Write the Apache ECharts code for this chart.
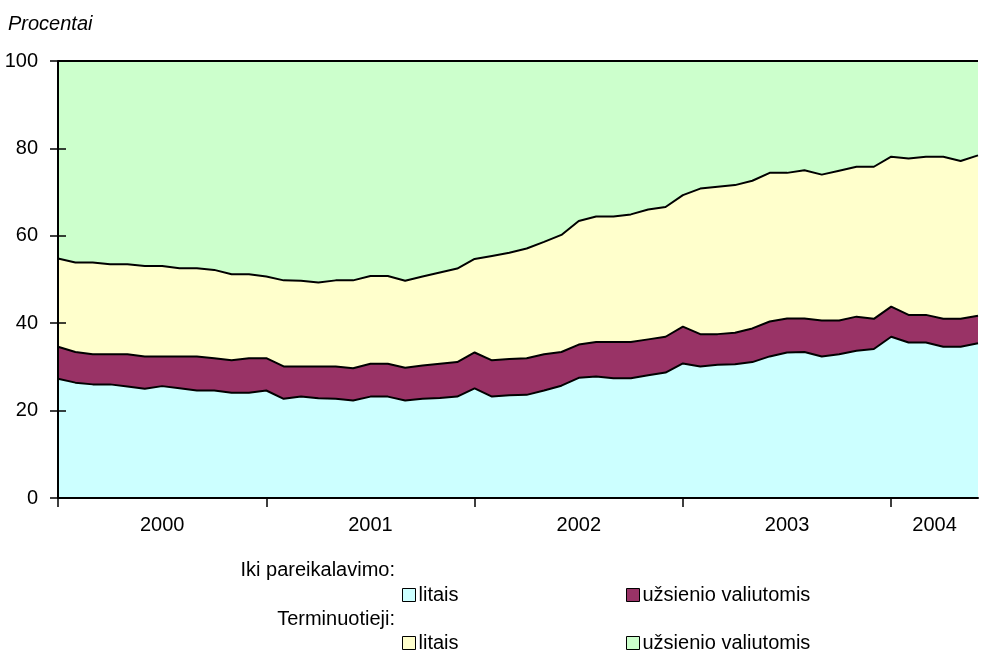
<!DOCTYPE html>
<html>
<head>
<meta charset="utf-8">
<script src="https://cdn.jsdelivr.net/npm/echarts@6/dist/echarts.min.js"></script>
<style>
  html, body { margin: 0; padding: 0; background: #fff; }
  #chart { width: 983px; height: 655px; }
</style>
</head>
<body>
<div id="chart"></div>
<script>
// monthly points, Jan 2000 .. Jun 2004
const months = [
  "2000-01","2000-02","2000-03","2000-04","2000-05","2000-06","2000-07","2000-08","2000-09","2000-10","2000-11","2000-12",
  "2001-01","2001-02","2001-03","2001-04","2001-05","2001-06","2001-07","2001-08","2001-09","2001-10","2001-11","2001-12",
  "2002-01","2002-02","2002-03","2002-04","2002-05","2002-06","2002-07","2002-08","2002-09","2002-10","2002-11","2002-12",
  "2003-01","2003-02","2003-03","2003-04","2003-05","2003-06","2003-07","2003-08","2003-09","2003-10","2003-11","2003-12",
  "2004-01","2004-02","2004-03","2004-04","2004-05","2004-06"
];

// Iki pareikalavimo - litais
const ikiLitais = [
  27.3, 26.4, 26.0, 26.0, 25.5, 25.0, 25.6, 25.1, 24.6, 24.6, 24.1, 24.1,
  24.6, 22.7, 23.2, 22.8, 22.7, 22.3, 23.2, 23.2, 22.3, 22.7, 22.9, 23.2,
  25.1, 23.2, 23.5, 23.6, 24.6, 25.7, 27.5, 27.8, 27.4, 27.4, 28.1, 28.7,
  30.8, 30.1, 30.5, 30.6, 31.1, 32.4, 33.3, 33.4, 32.4, 32.9, 33.7, 34.1,
  36.9, 35.6, 35.6, 34.6, 34.6, 35.4
];
// Iki pareikalavimo - užsienio valiutomis
const ikiValiuta = [
  7.3, 7.0, 6.9, 6.9, 7.4, 7.4, 6.8, 7.3, 7.8, 7.4, 7.4, 7.9,
  7.4, 7.4, 6.9, 7.3, 7.4, 7.4, 7.5, 7.5, 7.5, 7.6, 7.8, 7.9,
  8.2, 8.3, 8.3, 8.4, 8.3, 7.7, 7.6, 7.9, 8.3, 8.3, 8.2, 8.2,
  8.4, 7.4, 7.0, 7.2, 7.7, 8.0, 7.8, 7.7, 8.2, 7.7, 7.8, 6.9,
  6.9, 6.3, 6.3, 6.4, 6.4, 6.3
];
// Terminuotieji - litais
const termLitais = [
  20.2, 20.5, 21.0, 20.6, 20.6, 20.7, 20.7, 20.2, 20.2, 20.2, 19.7, 19.2,
  18.7, 19.7, 19.6, 19.2, 19.7, 20.1, 20.1, 20.1, 19.9, 20.4, 20.9, 21.4,
  21.4, 23.9, 24.3, 25.1, 25.7, 26.8, 28.3, 28.7, 28.7, 29.2, 29.7, 29.7,
  30.1, 33.3, 33.7, 33.8, 33.8, 34.0, 33.3, 33.9, 33.4, 34.3, 34.3, 34.8,
  34.3, 35.8, 36.2, 37.1, 36.1, 36.7
];
// Terminuotieji - užsienio valiutomis
const termValiuta = [
  45.2, 46.1, 46.1, 46.5, 46.5, 46.9, 46.9, 47.4, 47.4, 47.8, 48.8, 48.8,
  49.3, 50.2, 50.3, 50.7, 50.2, 50.2, 49.2, 49.2, 50.3, 49.3, 48.4, 47.5,
  45.3, 44.6, 43.9, 42.9, 41.4, 39.8, 36.6, 35.6, 35.6, 35.1, 34.0, 33.4,
  30.7, 29.2, 28.8, 28.4, 27.4, 25.6, 25.6, 25.0, 26.0, 25.1, 24.2, 24.2,
  21.9, 22.3, 21.9, 21.9, 22.9, 21.6
];

const seriesNames = ["Iki pareikalavimo: litais", "Iki pareikalavimo: užsienio valiutomis",
                     "Terminuotieji: litais", "Terminuotieji: užsienio valiutomis"];
const legendLabels = ["litais", "užsienio valiutomis", "litais", "užsienio valiutomis"];
const seriesColors = ["#ccffff", "#993366", "#ffffcc", "#ccffcc"];

const yearLabels = ["2000", "2001", "2002", "2003", "2004"];
const yearLabelAt = [6, 18, 30, 42, 50.5];   // month index of each year label
const yearTickAt = [0, 12, 24, 36, 48];      // month index of year boundaries

const FONT = "'Liberation Sans Narrow', 'Liberation Sans', Arial, sans-serif";

const chart = echarts.init(document.getElementById("chart"));

const dataSets = [ikiLitais, ikiValiuta, termLitais, termValiuta];
const series = dataSets.map((d, i) => ({
  name: seriesNames[i],
  type: "line",
  stack: "total",
  data: d,
  symbol: "none",
  smooth: false,
  itemStyle: { color: seriesColors[i] },
  lineStyle: { color: "#000", width: 2 },
  areaStyle: { color: seriesColors[i], opacity: 1 },
  emphasis: { disabled: true },
  xAxisIndex: 0,
  yAxisIndex: 0,
}));

// one legend per item so they can sit in the two-row layout
const legendPos = [
  { left: 397, top: 580 },
  { left: 621, top: 580 },
  { left: 397, top: 628 },
  { left: 621, top: 628 },
];
const legends = legendPos.map((p, i) => ({
  left: p.left,
  top: p.top,
  orient: "horizontal",
  icon: "rect",
  itemWidth: 13,
  itemHeight: 13,
  itemGap: 0,
  selectedMode: false,
  data: [seriesNames[i]],
  formatter: () => legendLabels[i],
  itemStyle: { borderColor: "#000", borderWidth: 1 },
  textStyle: { fontFamily: FONT, fontSize: 20, color: "#000", padding: [0, 0, 0, -2] },
}));

const option = {
  animation: false,
  backgroundColor: "#fff",
  grid: { left: 58, right: 5, top: 61, bottom: 157, containLabel: false },
  xAxis: [
    {
      type: "category",
      data: months,
      boundaryGap: false,
      z: 10,
      axisLine: { show: true, lineStyle: { color: "#000", width: 2 } },
      axisTick: {
        show: true,
        length: 9,
        interval: (idx) => yearTickAt.includes(idx),
        lineStyle: { color: "#000", width: 1.5 },
      },
      axisLabel: { show: false },
      splitLine: { show: false },
    },
    {
      type: "value",
      min: 0,
      max: months.length - 1,
      interval: 0.5,
      position: "bottom",
      axisLine: { show: false },
      axisTick: { show: false },
      splitLine: { show: false },
      axisLabel: {
        margin: 17,
        fontFamily: FONT,
        fontSize: 20,
        color: "#000",
        formatter: (v) => {
          const k = yearLabelAt.indexOf(v);
          return k >= 0 ? yearLabels[k] : "";
        },
      },
    },
  ],
  yAxis: [
    {
      type: "value",
      min: 0,
      max: 100,
      interval: 20,
      z: 10,
      axisLine: { show: true, lineStyle: { color: "#000", width: 2 } },
      axisTick: { show: true, length: 8, lineStyle: { color: "#000", width: 1.5 } },
      axisLabel: { margin: 20, fontFamily: FONT, fontSize: 20, color: "#000" },
      splitLine: { show: false },
    },
    {
      // inner half of the crossing ticks
      type: "value",
      min: 0,
      max: 100,
      interval: 20,
      position: "left",
      z: 10,
      axisLine: { show: false },
      axisTick: { show: true, inside: true, length: 8, lineStyle: { color: "#000", width: 1.5 } },
      axisLabel: { show: false },
      splitLine: { show: false },
    },
  ],
  legend: legends,
  graphic: [
    {
      type: "text",
      left: 8,
      top: 14,
      style: { text: "Procentai", font: "italic 20px " + FONT, fill: "#000" },
    },
    {
      type: "text",
      right: 588,
      top: 560,
      style: { text: "Iki pareikalavimo:", font: "20px " + FONT, fill: "#000" },
    },
    {
      type: "text",
      right: 588,
      top: 609,
      style: { text: "Terminuotieji:", font: "20px " + FONT, fill: "#000" },
    },
  ],
  series: series,
};

chart.setOption(option);
</script>
</body>
</html>
